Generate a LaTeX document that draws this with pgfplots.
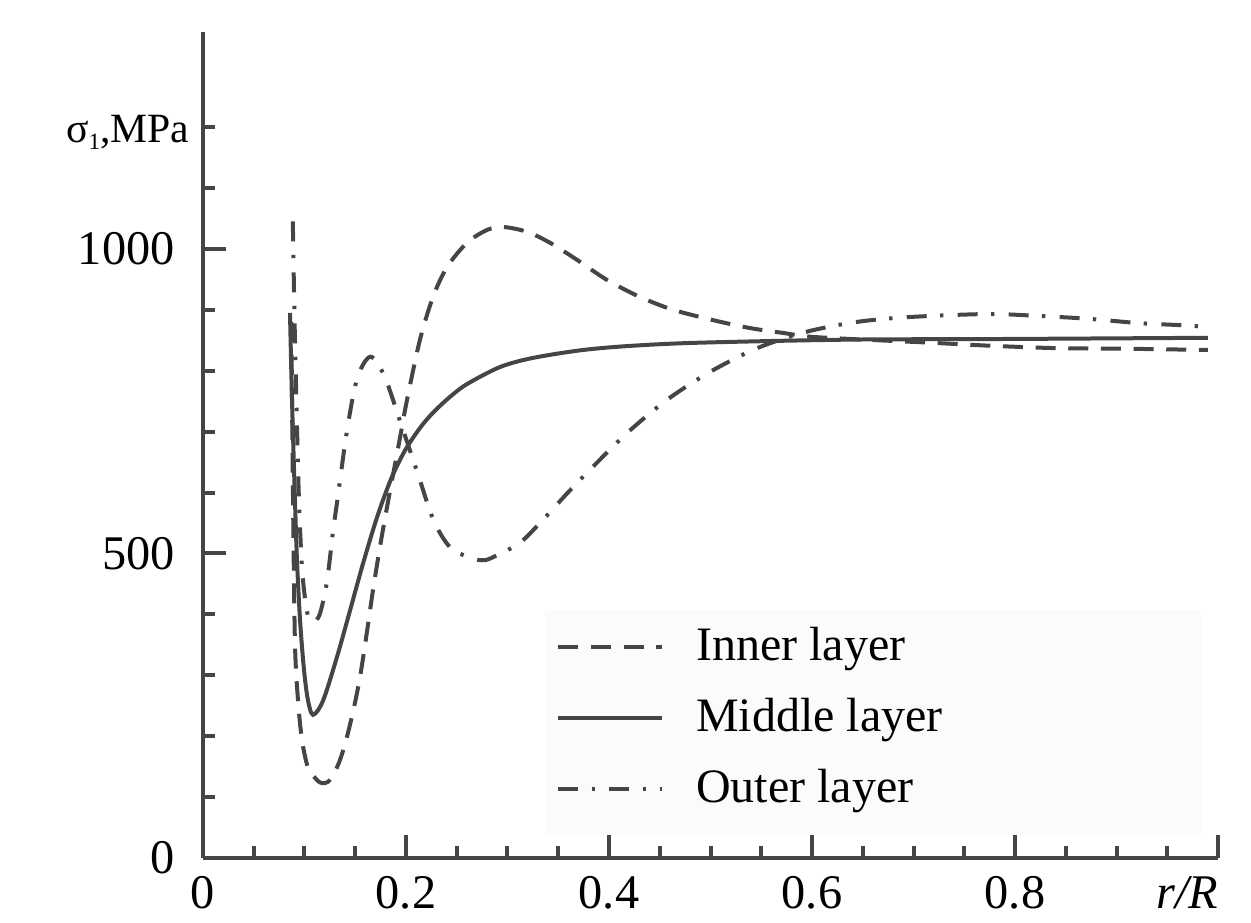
\documentclass[border=0pt]{standalone}
\usepackage{fontspec}
\setmainfont{Liberation Serif}
\usepackage{pgfplots}
\pgfplotsset{compat=1.18}
\definecolor{ink}{gray}{0.27}

% r/R, sigma_1 in MPa
\pgfplotstableread{
x y
0.0885 1045
0.0900 900
0.0920 750
0.0945 590
0.0975 478
0.1010 420
0.1044 392
0.1090 388
0.1150 400
0.1220 452
0.1280 535
0.1320 583
0.1420 703
0.1520 788
0.1650 823
0.1790 790
0.1960 708
0.2120 629
0.2270 555
0.2430 511
0.2630 493
0.2780 489
0.2930 500
0.3120 517
0.3320 550
0.3590 599
0.3840 642
0.4180 698
0.4570 752
0.4995 798
0.5460 837
0.5950 864
0.6440 880
0.6950 888
0.7720 893
0.8220 890
0.8740 885
0.9230 878
0.9720 874
0.9900 871
}\outer

\pgfplotstableread{
x y
0.0857 895
0.0877 752
0.0906 588
0.0926 489
0.0956 391
0.0995 309
0.1034 259
0.1084 235
0.1182 258
0.1320 330
0.1448 406
0.1576 483
0.1714 559
0.1852 622
0.1990 669
0.2138 706
0.2266 731
0.2433 757
0.2601 778
0.2926 806
0.3251 821
0.3744 834
0.4236 841
0.4897 846
0.6374 851
0.7852 852
0.9901 854
}\middle

\pgfplotstableread{
x y
0.0870 880
0.0887 588
0.0906 353
0.0936 259
0.0975 194
0.1034 149
0.1123 128
0.1172 123
0.1232 125
0.1291 139
0.1350 161
0.1409 193
0.1478 240
0.1547 297
0.1616 372
0.1675 440
0.1744 511
0.1813 576
0.1941 690
0.2010 752
0.2138 851
0.2266 921
0.2404 970
0.2601 1010
0.2798 1031
0.2956 1036
0.3192 1028
0.3419 1010
0.3685 982
0.3980 949
0.4305 921
0.4631 900
0.5025 883
0.5389 870
0.5714 862
0.6049 855
0.7160 846
0.7750 841
0.8410 837
0.9100 836
0.9900 834
}\inner

\begin{document}
\begin{tikzpicture}
\begin{axis}[
    scale only axis,
    width=304.5pt, height=247.8pt,
    xmin=0, xmax=1, ymin=0, ymax=1356,
    clip=false,
    axis lines=left,
    axis line style={-, ink, line width=1.2pt},
    tick style={ink, line width=1.2pt},
    tick align=inside,
    major tick length=6.9pt,
    minor tick length=3.6pt,
    xtick={0,0.2,0.4,0.6,0.8,1},
    xticklabels={0,0.2,0.4,0.6,0.8,\makebox[0pt][r]{\textit{r/R}}},
    minor xtick={0.05,0.1,0.15,0.25,0.3,0.35,0.45,0.5,0.55,0.65,0.7,0.75,0.85,0.9,0.95},
    ytick={0,500,1000},
    yticklabels={0,500,1000},
    minor ytick={100,200,300,400,600,700,800,900,1100,1200},
    ticklabel style={font=\fontsize{14.5}{17}\selectfont, text=black},
    xticklabel style={yshift=-2pt},
    yticklabel style={xshift=-5pt},
    legend style={at={(rel axis cs:0.341,0.304)}, anchor=north west,
        draw=none, fill=none, font=\fontsize{14.4}{17}\selectfont,
        row sep=1.8pt, inner sep=2pt, nodes={inner sep=4pt}},
    legend cell align=left,
    legend image code/.code={\draw[#1] (0pt,0pt) -- (31pt,0pt); \path (36.7pt,0pt);},
]
\fill[gray!3] (rel axis cs:0.337,0.028) rectangle (rel axis cs:0.983,0.300);
\addplot[ink, line width=1.2pt, smooth, dash pattern=on 6pt off 3.8pt] table {\inner};
\addlegendentry{Inner layer}
\addplot[ink, line width=1.2pt, smooth] table {\middle};
\addlegendentry{Middle layer}
\addplot[ink, line width=1.2pt, smooth, dash pattern=on 6pt off 4pt on 1pt off 4.3pt] table {\outer};
\addlegendentry{Outer layer}
\node[anchor=base east, inner sep=0pt, font=\fontsize{12.5}{15}\selectfont]
    at (axis cs:0,1174) [xshift=-3.9pt] {σ{\fontsize{7}{7}\selectfont\raisebox{-2pt}{1}},MPa};
\end{axis}
\pgfresetboundingbox
\path[use as bounding box] (current axis.south west) ++(-60.9pt,-19.2pt) rectangle ++(375.3pt,276.6pt);
\end{tikzpicture}
\end{document}
